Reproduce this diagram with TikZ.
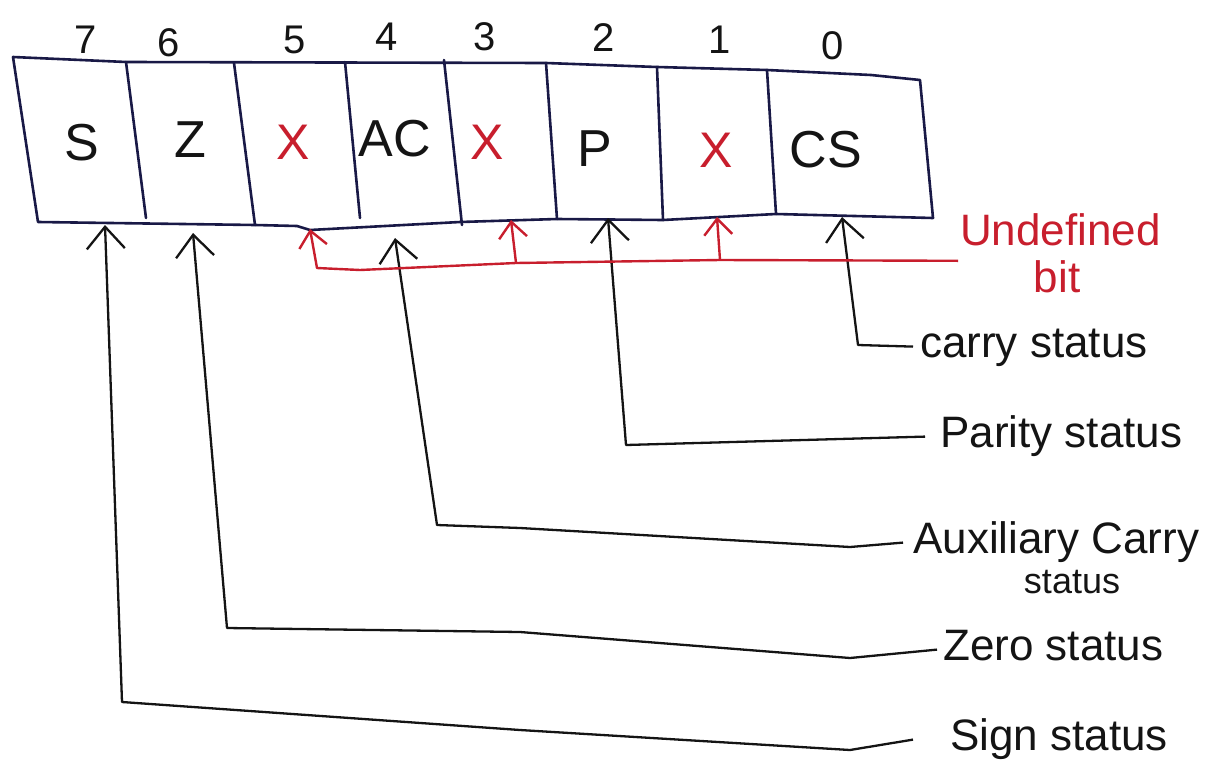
\documentclass[tikz,border=0pt]{standalone}
\usepackage{fontspec}
\setmainfont{Liberation Sans}
\usetikzlibrary{arrows.meta}
\definecolor{boxink}{RGB}{25,25,70}
\definecolor{blackink}{RGB}{20,20,20}
\definecolor{redink}{RGB}{200,30,45}
\begin{document}
\begin{tikzpicture}[x=1pt,y=-1pt,
  outline/.style={draw=boxink,line width=2.6pt,line join=round,line cap=round},
  cellletter/.style={font=\fontsize{52}{56}\selectfont,text=blackink,inner sep=0pt},
  undefmark/.style={font=\fontsize{50}{54}\selectfont,text=redink,inner sep=0pt},
  bitnum/.style={font=\fontsize{40}{44}\selectfont,text=blackink,inner sep=0pt},
  flaglabel/.style={font=\fontsize{44}{52}\selectfont,text=blackink,inner ysep=0pt,anchor=base west,execute at begin node=\strut},
  redlabel/.style={flaglabel,text=redink},
  pointer/.style={draw=blackink,line width=2.3pt,line join=round,-{Straight Barb[length=22pt,width=38pt]}},
  redpointer/.style={draw=redink,line width=2.4pt,line join=round,-{Straight Barb[length=16pt,width=28pt]}},
]
\useasboundingbox (0,0) rectangle (1214,776);

% register outline
\draw[outline] (13,57) -- (126,62) -- (546,63) -- (657,67) -- (767,70) -- (871,75) -- (920,80)
  -- (933,218) -- (776,214) -- (663,220) -- (557,219) -- (460,222) -- (310,230) -- (297,226)
  -- (255,225) -- (38,222) -- cycle;
% cell dividers
\draw[outline] (126,62) -- (146,218);
\draw[outline] (234,63) -- (255,225);
\draw[outline] (345,62) -- (360,218);
\draw[outline] (444,60) -- (462,225);
\draw[outline] (546,63) -- (557,219);
\draw[outline] (657,67) -- (663,220);
\draw[outline] (767,70) -- (776,214);

% bit numbers
\node[bitnum] (n7) at (86,40) {7};
\node[bitnum] (n6) at (169,43) {6};
\node[bitnum] (n5) at (295,40) {5};
\node[bitnum] (n4) at (387,37) {4};
\node[bitnum] (n3) at (485,37) {3};
\node[bitnum] (n2) at (604,38) {2};
\node[bitnum] (n1) at (720,40) {1};
\node[bitnum] (n0) at (833,46) {0};

% cell contents
\node[cellletter] (cS) at (82,143) {S};
\node[cellletter] (cZ) at (190,140) {Z};
\node[undefmark] (x5) at (293,142) {X};
\node[cellletter] (cAC) at (395,139) {AC};
\node[undefmark] (x3) at (487,142) {X};
\node[cellletter] (cP) at (595,149) {P};
\node[undefmark] (x1) at (716,150) {X};
\node[cellletter] (cCS) at (826,150) {CS};

% arrow tips at the register bottom
\coordinate (tipS) at (105,225);
\coordinate (tipZ) at (193,233);
\coordinate (tipAC) at (395,238);
\coordinate (tipP) at (608,218);
\coordinate (tipCS) at (842,217);
\coordinate (tipU5) at (310,229);
\coordinate (tipU3) at (511,220);
\coordinate (tipU1) at (717,217);
\coordinate (jU3) at (516,263);
\coordinate (jU1) at (720,260);

% labels
\node[redlabel,inner xsep=2pt] (undef) at (958,245) {Undefined};
\node[redlabel,anchor=base,inner xsep=0pt] (bit) at (1057,292) {bit};
\node[flaglabel,inner xsep=7pt] (carry) at (913,357) {carry status};
\node[flaglabel,inner xsep=15pt] (parity) at (925,447) {Parity status};
\node[flaglabel,inner xsep=10pt] (aux) at (903,553) {Auxiliary Carry};
\node[font=\fontsize{36}{40}\selectfont,text=blackink,anchor=base,inner sep=0pt] (auxs) at (1072,593) {status};
\node[flaglabel,inner xsep=6pt] (zero) at (937,660) {Zero status};
\node[flaglabel,inner xsep=37pt] (sign) at (913,750) {Sign status};

% connectors
\draw[pointer] (carry.west) -- (858,345) -- (tipCS);
\draw[pointer] (parity.west) -- (626,445) -- (tipP);
\draw[pointer] (aux.west) -- (850,547) -- (520,528) -- (437,525) -- (tipAC);
\draw[pointer] (zero.west) -- (850,658) -- (520,632) -- (227,628) -- (tipZ);
\draw[pointer] (sign.west) -- (850,750) -- (520,730) -- (122,702) -- (tipS);

\draw[redpointer] (undef.south west) -- (jU1) -- (jU3) -- (360,270) -- (317,268) -- (tipU5);
\draw[redpointer] (jU3) -- (tipU3);
\draw[redpointer] (jU1) -- (tipU1);
\end{tikzpicture}
\end{document}
